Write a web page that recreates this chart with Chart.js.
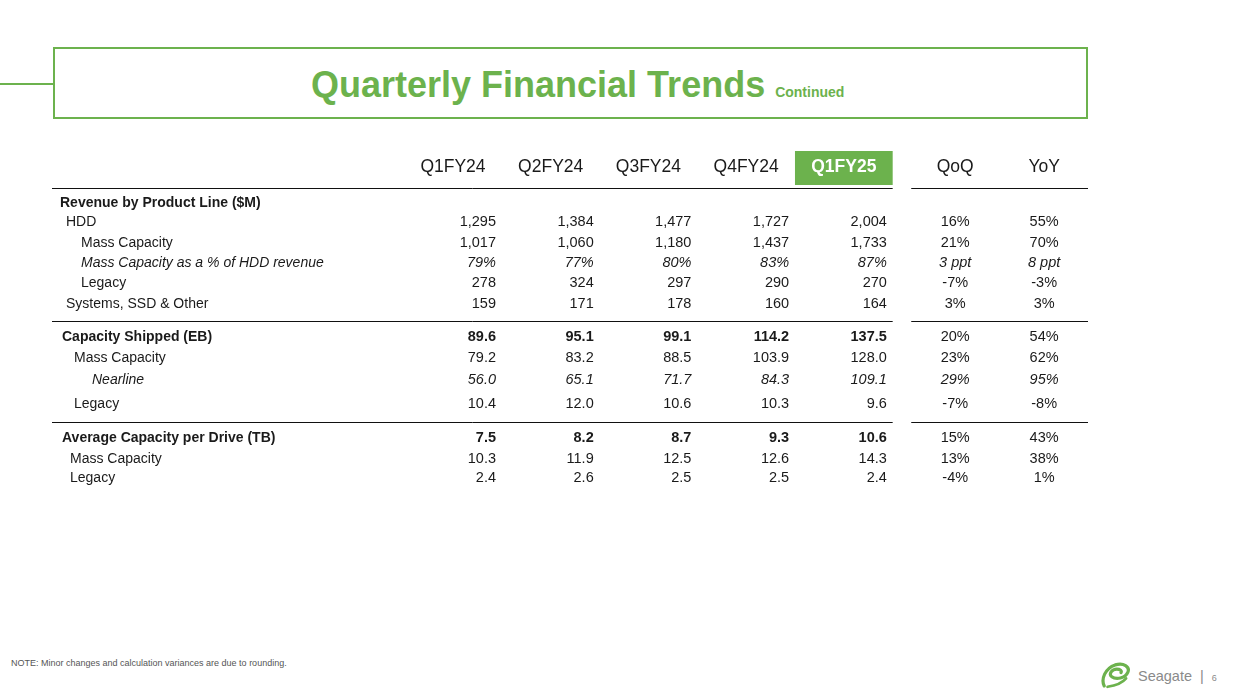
<!DOCTYPE html>
<html>
<head>
<meta charset="utf-8">
<script src="https://cdn.jsdelivr.net/npm/chart.js@4.4.0/dist/chart.umd.min.js"></script>
<style>
	body { margin: 0; width: 1237px; height: 695px; background: #fff; position: relative; overflow: hidden; font-family: "Liberation Sans", Arial, sans-serif; }
	.titleBox { position: absolute; left: 53px; top: 47px; width: 1031px; height: 68px; border: 2px solid #6cb24d; }
	.titleLine { position: absolute; left: 0; top: 83px; width: 54px; height: 2px; background: #6cb24d; }
	.title { position: absolute; left: 311px; top: 67px; line-height: 36px; white-space: nowrap; color: #6cb24d; font-weight: bold; }
	.title .main { font-size: 36px; }
	.title .sub { font-size: 14px; margin-left: 10px; }
	#wrap { position: absolute; left: 0; top: 140px; width: 1237px; height: 360px; }
	.note { position: absolute; left: 11px; top: 658px; font-size: 9px; color: #555; }
	.brand { position: absolute; left: 1138px; top: 668px; font-size: 14.5px; color: #8a8a8a; white-space: nowrap; }
	.brand .bar { margin-left: 8px; }
	.brand .page { font-size: 9px; margin-left: 8px; }
	.logo { position: absolute; left: 1100px; top: 660px; }
</style>
</head>
<body>
<div class="titleLine"></div>
<div class="titleBox"></div>
<div class="title"><span class="main">Quarterly Financial Trends</span><span class="sub">Continued</span></div>
<div id="wrap"><canvas id="table" width="1237" height="360"></canvas></div>
<div class="note">NOTE: Minor changes and calculation variances are due to rounding.</div>
<svg class="logo" width="32" height="30" viewBox="0 0 38 34">
	<path d="M5 30 C1 22 6 9 18 5 C28 2 36 7 33 14 C30 21 19 23 14 19 C10 16 14 10 20 10 C24 10 26 12 25 14" fill="none" stroke="#6cb24d" stroke-width="3.8" stroke-linecap="round"/>
	<path d="M9 31 C16 30 26 27 31 21" fill="none" stroke="#6cb24d" stroke-width="3.2" stroke-linecap="round"/>
</svg>
<div class="brand">Seagate<span class="bar">|</span><span class="page">6</span></div>
<script>
const GREEN = '#6cb24d';
const INK = '#1a1a1a';
const FONT = '"Liberation Sans", Arial, sans-serif';

const quarters = ['Q1FY24', 'Q2FY24', 'Q3FY24', 'Q4FY24', 'Q1FY25'];
const changeLabels = ['QoQ', 'YoY'];

const rowLabels = [
	'Revenue by Product Line ($M)',
	'HDD',
	'Mass Capacity',
	'Mass Capacity as a % of HDD revenue',
	'Legacy',
	'Systems, SSD & Other',
	'Capacity Shipped (EB)',
	'Mass Capacity',
	'Nearline',
	'Legacy',
	'Average Capacity per Drive (TB)',
	'Mass Capacity',
	'Legacy'
];

// revenue ($M)
const hddRevenue = [1295, 1384, 1477, 1727, 2004];
const massCapRevenue = [1017, 1060, 1180, 1437, 1733];
const massCapShare = [79, 77, 80, 83, 87];
const legacyRevenue = [278, 324, 297, 290, 270];
const systemsRevenue = [159, 171, 178, 160, 164];

// capacity shipped (EB)
const capShipped = [89.6, 95.1, 99.1, 114.2, 137.5];
const capMass = [79.2, 83.2, 88.5, 103.9, 128.0];
const capNearline = [56.0, 65.1, 71.7, 84.3, 109.1];
const capLegacy = [10.4, 12.0, 10.6, 10.3, 9.6];

// average capacity per drive (TB)
const avgCapacity = [7.5, 8.2, 8.7, 9.3, 10.6];
const avgMass = [10.3, 11.9, 12.5, 12.6, 14.3];
const avgLegacy = [2.4, 2.6, 2.5, 2.5, 2.4];

// change columns, one entry per row (null = section header)
const qoq = [null, 16, 21, 3, -7, 3, 20, 23, 29, -7, 15, 13, -4];
const yoy = [null, 55, 70, 8, -3, 3, 54, 62, 95, -8, 43, 38, 1];

const rowValues = [null, hddRevenue, massCapRevenue, massCapShare, legacyRevenue, systemsRevenue,
	capShipped, capMass, capNearline, capLegacy, avgCapacity, avgMass, avgLegacy];

// layout: row slot on the y scale, label indent, style
const ROW_SLOT = [3.15, 4.1, 5.15, 6.15, 7.15, 8.2, 9.85, 10.9, 12.0, 13.2, 14.9, 15.95, 16.9];
const INDENT = [8, 14, 29, 29, 29, 14, 10, 22, 40, 22, 10, 18, 18];
const ROW_STYLE = ['head', '', '', 'italic', '', '', 'bold', '', 'italic', '', 'bold', '', ''];
const RULES = [2.4, 9.05, 14.1];
const HEADER_SLOT = 1.35;
const COL_X = [0, 1, 2, 3, 4, 5.14, 6.05];

function formatValue(row, v) {
	if (row <= 5) {
		return row === 3 ? v + '%' : v.toLocaleString('en-US');
	}
	return v.toFixed(1);
}

function formatChange(row, v) {
	return row === 3 ? v + ' ppt' : v + '%';
}

let datasets = [];
rowValues.forEach((values, row) => {
	if (values === null) return;
	datasets.push({
		label: rowLabels[row],
		row: row,
		texts: values.map(v => formatValue(row, v)).concat([formatChange(row, qoq[row]), formatChange(row, yoy[row])]),
		data: COL_X.map(x => ({ x: x, y: ROW_SLOT[row] })),
		pointRadius: 0,
		pointHoverRadius: 0
	});
});

function font(size, style) {
	let f = '';
	if (style === 'italic') f += 'italic ';
	if (style === 'bold' || style === 'head') f += 'bold ';
	return f + size + 'px ' + FONT;
}

const tablePlugin = {
	id: 'tableText',
	afterDatasetsDraw(chart) {
		const ctx = chart.ctx;
		const xs = chart.scales.x;
		const ys = chart.scales.y;
		const area = chart.chartArea;
		ctx.save();

		// highlighted current quarter
		const bx0 = xs.getPixelForValue(3.5), bx1 = xs.getPixelForValue(4.5);
		const by0 = ys.getPixelForValue(0.55), by1 = ys.getPixelForValue(2.25);
		ctx.fillStyle = GREEN;
		ctx.fillRect(bx0, by0, bx1 - bx0, by1 - by0);

		// column headers
		ctx.textBaseline = 'middle';
		ctx.textAlign = 'center';
		const hy = ys.getPixelForValue(HEADER_SLOT);
		quarters.concat(changeLabels).forEach((label, j) => {
			const current = j === 4;
			ctx.fillStyle = current ? '#fff' : INK;
			ctx.font = (current ? 'bold ' : '') + '17.5px ' + FONT;
			ctx.fillText(label, xs.getPixelForValue(COL_X[j]), hy);
		});

		// rules
		ctx.strokeStyle = '#111';
		ctx.lineWidth = 1;
		RULES.forEach(slot => {
			const y = Math.round(ys.getPixelForValue(slot)) + 0.5;
			ctx.beginPath();
			ctx.moveTo(area.left, y);
			ctx.lineTo(xs.getPixelForValue(4.5), y);
			ctx.moveTo(xs.getPixelForValue(4.69), y);
			ctx.lineTo(area.right, y);
			ctx.stroke();
		});

		// row labels
		ctx.textAlign = 'left';
		ctx.fillStyle = INK;
		rowLabels.forEach((label, row) => {
			ctx.font = font(14, ROW_STYLE[row]);
			ctx.fillText(label, area.left + INDENT[row], ys.getPixelForValue(ROW_SLOT[row]));
		});

		// cell values
		chart.data.datasets.forEach((ds, i) => {
			const meta = chart.getDatasetMeta(i);
			const style = ROW_STYLE[ds.row];
			meta.data.forEach((pt, j) => {
				if (j < 5) {
					ctx.textAlign = 'right';
					ctx.font = font(14.5, style);
					ctx.fillText(ds.texts[j], xs.getPixelForValue(COL_X[j] + 0.44), pt.y);
				} else {
					ctx.textAlign = 'center';
					ctx.font = font(14.5, style === 'italic' ? 'italic' : '');
					ctx.fillText(ds.texts[j], pt.x, pt.y);
				}
			});
		});

		ctx.restore();
	}
};

new Chart(document.getElementById('table'), {
	type: 'scatter',
	data: {
		datasets: datasets
	},
	options: {
		responsive: false,
		animation: {
			duration: 0
		},
		layout: {
			padding: { left: 52, right: 149, top: 0, bottom: 0 }
		},
		scales: {
			x: { type: 'linear', min: -4.104, max: 6.499, display: false },
			y: { type: 'linear', min: 0, max: 18, reverse: true, display: false }
		},
		plugins: {
			legend: { display: false },
			tooltip: { enabled: false }
		}
	},
	plugins: [tablePlugin]
});
</script>
</body>
</html>
